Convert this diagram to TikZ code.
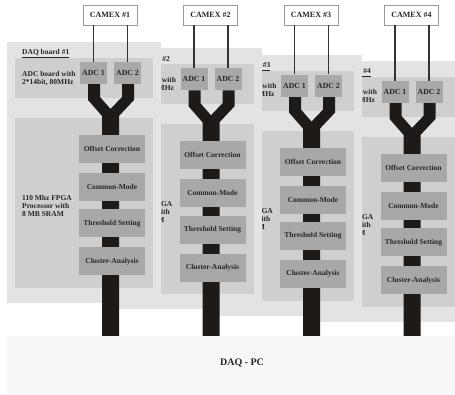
\documentclass[tikz,border=0pt]{standalone}
\usepackage{fontspec}
\setmainfont{Liberation Serif}
\definecolor{boardbg}{gray}{0.89}
\definecolor{innerbg}{gray}{0.81}
\definecolor{boxbg}{gray}{0.66}
\definecolor{trunkc}{RGB}{30,26,24}
\definecolor{pcbg}{gray}{0.97}
\definecolor{camexedge}{gray}{0.6}
\definecolor{textc}{gray}{0.15}
\tikzset{
  txt/.style={text=textc, font=\fontsize{7.5}{8}\selectfont\bfseries},
  procbox/.style={txt, fill=boxbg, minimum width=66pt, minimum height=28pt, inner sep=0pt},
  adcbox/.style={txt, fill=boxbg, minimum width=27pt, minimum height=22pt, inner sep=0pt, font=\fontsize{7.8}{8}\selectfont\bfseries},
  camexbox/.style={txt, draw=camexedge, line width=0.6pt, fill=white, minimum width=54pt, minimum height=20pt, inner sep=0pt, font=\fontsize{8}{9}\selectfont\bfseries},
  wire/.style={draw=black!80, line width=1.3pt},
  blackpath/.style={fill=trunkc, draw=none},
  boardrect/.style={fill=boardbg, draw=none},
  innerrect/.style={fill=innerbg, draw=none},
  infotext/.style={txt, anchor=west, align=left, inner sep=0pt},
}
\newcommand\daqboard[1]{%
  \begin{scope}[shift={({100.5*(#1-1)},{6.3*(#1-1)})}]
    \fill[boardrect] (7,42) rectangle (161,303);
    \node[txt, anchor=base west, inner sep=0pt] (title#1) at (22,55) {\underline{DAQ board \##1}};
    \fill[innerrect] (15,58) rectangle (153,98);
    \node[infotext] (adctext#1) at (22,78) {ADC board with\\2*14bit, 80MHz};
    \fill[innerrect] (15,118) rectangle (153,288);
    \node[infotext] (fpgatext#1) at (22,206) {110 Mhz FPGA\\Processor with\\8 MB SRAM};
    \fill[blackpath] (88,84) -- (88,100) -- (102,116) -- (102,{336-6.3*(#1-1)}) -- (119,{336-6.3*(#1-1)})
       -- (119,116) -- (134,100) -- (134,84) -- (122,84) -- (122,97) -- (110.5,109) -- (100,97) -- (100,84) -- cycle;
    \node[adcbox] (adcA#1) at (93.5,73) {ADC 1};
    \node[adcbox] (adcB#1) at (127.5,73) {ADC 2};
    \node[procbox] (offset#1) at (112,149) {Offset Correction};
    \node[procbox] (common#1) at (112,187) {Common-Mode};
    \node[procbox] (thresh#1) at (112,223.5) {Threshold Setting};
    \node[procbox] (cluster#1) at (112,261.5) {Cluster-Analysis};
  \end{scope}
  \node[camexbox] (camex#1) at ({110+100.5*(#1-1)},15) {CAMEX \##1};
  \draw[wire] (camex#1.south -| adcA#1.north) -- (adcA#1.north);
  \draw[wire] (camex#1.south -| adcB#1.north) -- (adcB#1.north);
}
\begin{document}
\begin{tikzpicture}[x=1pt,y=-1pt]
  \useasboundingbox (0,0) rectangle (455,395);
  \clip (0,0) rectangle (455,395);
  \fill[white] (0,0) rectangle (455,395);
  \daqboard{4}
  \daqboard{3}
  \daqboard{2}
  \daqboard{1}
  \node[fill=pcbg, minimum width=470pt, minimum height=59pt, inner sep=0pt, anchor=north west] (pc) at (7,336) {};
  \node[txt, font=\fontsize{10}{12}\selectfont\bfseries] (pctext) at (242,363) {DAQ - PC};
\end{tikzpicture}
\end{document}
